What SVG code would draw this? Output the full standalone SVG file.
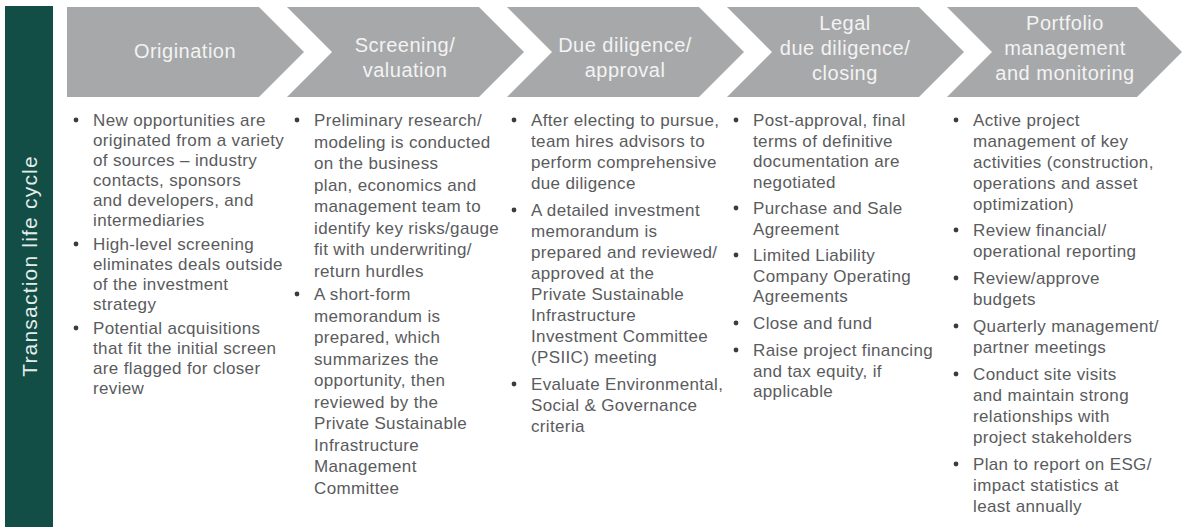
<svg xmlns="http://www.w3.org/2000/svg" width="1182" height="527" viewBox="0 0 1182 527">
<style>
.bar{fill:#124d46}
.side{font-family:"Liberation Sans",Arial,sans-serif;font-size:21px;fill:#e4ecea;letter-spacing:1.2px}
.chev{fill:#a7a8aa}
.hd{font-family:"Liberation Sans",Arial,sans-serif;font-size:20px;fill:#f3f3f3;text-anchor:middle;letter-spacing:0.5px}
.tx{font-family:"Liberation Sans",Arial,sans-serif;font-size:17px;fill:#5a5b5d;letter-spacing:0.35px}
.bl{fill:#3c3c3c}
</style>
<rect width="1182" height="527" fill="#ffffff"/>
<g id="sidebar">
<rect class="bar" x="5" y="6" width="48" height="521"/>
<text class="side" transform="translate(37,266) rotate(-90)" text-anchor="middle">Transaction life cycle</text>
</g>
<g id="connectors"></g>
<g id="origination">
<polygon class="chev" points="67,7 259,7 304,52 259,97 67,97"/>
<text class="hd" x="185" y="58">Origination</text>
</g>
<g id="screening">
<polygon class="chev" points="287,7 479,7 524,52 479,97 287,97 332,52"/>
<text class="hd" x="405" y="52">Screening/</text>
<text class="hd" x="405" y="77">valuation</text>
</g>
<g id="due-diligence">
<polygon class="chev" points="507,7 699,7 744,52 699,97 507,97 552,52"/>
<text class="hd" x="625" y="52">Due diligence/</text>
<text class="hd" x="625" y="77">approval</text>
</g>
<g id="legal">
<polygon class="chev" points="727,7 919,7 964,52 919,97 727,97 772,52"/>
<text class="hd" x="845" y="30">Legal</text>
<text class="hd" x="845" y="55">due diligence/</text>
<text class="hd" x="845" y="80">closing</text>
</g>
<g id="portfolio">
<polygon class="chev" points="947,7 1137,7 1182,52 1137,97 947,97 992,52"/>
<text class="hd" x="1065" y="30">Portfolio</text>
<text class="hd" x="1065" y="55">management</text>
<text class="hd" x="1065" y="80">and monitoring</text>
</g>
<g id="col-origination">
<circle class="bl" cx="76" cy="120" r="2.4"/>
<circle class="bl" cx="76" cy="244" r="2.4"/>
<circle class="bl" cx="76" cy="328" r="2.4"/>
<text class="tx" x="93" y="126">New opportunities are</text>
<text class="tx" x="93" y="146">originated from a variety</text>
<text class="tx" x="93" y="166">of sources – industry</text>
<text class="tx" x="93" y="186">contacts, sponsors</text>
<text class="tx" x="93" y="206">and developers, and</text>
<text class="tx" x="93" y="226">intermediaries</text>
<text class="tx" x="93" y="250">High-level screening</text>
<text class="tx" x="93" y="270">eliminates deals outside</text>
<text class="tx" x="93" y="290">of the investment</text>
<text class="tx" x="93" y="310">strategy</text>
<text class="tx" x="93" y="334">Potential acquisitions</text>
<text class="tx" x="93" y="354">that fit the initial screen</text>
<text class="tx" x="93" y="374">are flagged for closer</text>
<text class="tx" x="93" y="394">review</text>
</g>
<g id="col-screening">
<circle class="bl" cx="297" cy="120" r="2.4"/>
<circle class="bl" cx="297" cy="294" r="2.4"/>
<text class="tx" x="314" y="126">Preliminary research/</text>
<text class="tx" x="314" y="147.5">modeling is conducted</text>
<text class="tx" x="314" y="169">on the business</text>
<text class="tx" x="314" y="190.5">plan, economics and</text>
<text class="tx" x="314" y="212">management team to</text>
<text class="tx" x="314" y="233.5">identify key risks/gauge</text>
<text class="tx" x="314" y="255">fit with underwriting/</text>
<text class="tx" x="314" y="276.5">return hurdles</text>
<text class="tx" x="314" y="300">A short-form</text>
<text class="tx" x="314" y="321.5">memorandum is</text>
<text class="tx" x="314" y="343">prepared, which</text>
<text class="tx" x="314" y="364.5">summarizes the</text>
<text class="tx" x="314" y="386">opportunity, then</text>
<text class="tx" x="314" y="407.5">reviewed by the</text>
<text class="tx" x="314" y="429">Private Sustainable</text>
<text class="tx" x="314" y="450.5">Infrastructure</text>
<text class="tx" x="314" y="472">Management</text>
<text class="tx" x="314" y="493.5">Committee</text>
</g>
<g id="col-due-diligence">
<circle class="bl" cx="514" cy="120" r="2.4"/>
<circle class="bl" cx="514" cy="210" r="2.4"/>
<circle class="bl" cx="514" cy="384" r="2.4"/>
<text class="tx" x="531" y="126">After electing to pursue,</text>
<text class="tx" x="531" y="147">team hires advisors to</text>
<text class="tx" x="531" y="168">perform comprehensive</text>
<text class="tx" x="531" y="189">due diligence</text>
<text class="tx" x="531" y="216">A detailed investment</text>
<text class="tx" x="531" y="237">memorandum is</text>
<text class="tx" x="531" y="258">prepared and reviewed/</text>
<text class="tx" x="531" y="279">approved at the</text>
<text class="tx" x="531" y="300">Private Sustainable</text>
<text class="tx" x="531" y="321">Infrastructure</text>
<text class="tx" x="531" y="342">Investment Committee</text>
<text class="tx" x="531" y="363">(PSIIC) meeting</text>
<text class="tx" x="531" y="390">Evaluate Environmental,</text>
<text class="tx" x="531" y="411">Social &amp; Governance</text>
<text class="tx" x="531" y="432">criteria</text>
</g>
<g id="col-legal">
<circle class="bl" cx="736" cy="120" r="2.4"/>
<circle class="bl" cx="736" cy="208" r="2.4"/>
<circle class="bl" cx="736" cy="255" r="2.4"/>
<circle class="bl" cx="736" cy="323" r="2.4"/>
<circle class="bl" cx="736" cy="350" r="2.4"/>
<text class="tx" x="753" y="126">Post-approval, final</text>
<text class="tx" x="753" y="146.5">terms of definitive</text>
<text class="tx" x="753" y="167">documentation are</text>
<text class="tx" x="753" y="187.5">negotiated</text>
<text class="tx" x="753" y="214">Purchase and Sale</text>
<text class="tx" x="753" y="234.5">Agreement</text>
<text class="tx" x="753" y="261">Limited Liability</text>
<text class="tx" x="753" y="281.5">Company Operating</text>
<text class="tx" x="753" y="302">Agreements</text>
<text class="tx" x="753" y="329">Close and fund</text>
<text class="tx" x="753" y="356">Raise project financing</text>
<text class="tx" x="753" y="376.5">and tax equity, if</text>
<text class="tx" x="753" y="397">applicable</text>
</g>
<g id="col-portfolio">
<circle class="bl" cx="956" cy="120" r="2.4"/>
<circle class="bl" cx="956" cy="230" r="2.4"/>
<circle class="bl" cx="956" cy="278" r="2.4"/>
<circle class="bl" cx="956" cy="326" r="2.4"/>
<circle class="bl" cx="956" cy="374" r="2.4"/>
<circle class="bl" cx="956" cy="464" r="2.4"/>
<text class="tx" x="973" y="126">Active project</text>
<text class="tx" x="973" y="147">management of key</text>
<text class="tx" x="973" y="168">activities (construction,</text>
<text class="tx" x="973" y="189">operations and asset</text>
<text class="tx" x="973" y="210">optimization)</text>
<text class="tx" x="973" y="236">Review financial/</text>
<text class="tx" x="973" y="257">operational reporting</text>
<text class="tx" x="973" y="284">Review/approve</text>
<text class="tx" x="973" y="305">budgets</text>
<text class="tx" x="973" y="332">Quarterly management/</text>
<text class="tx" x="973" y="353">partner meetings</text>
<text class="tx" x="973" y="380">Conduct site visits</text>
<text class="tx" x="973" y="401">and maintain strong</text>
<text class="tx" x="973" y="422">relationships with</text>
<text class="tx" x="973" y="443">project stakeholders</text>
<text class="tx" x="973" y="470">Plan to report on ESG/</text>
<text class="tx" x="973" y="491">impact statistics at</text>
<text class="tx" x="973" y="512">least annually</text>
</g>
</svg>
